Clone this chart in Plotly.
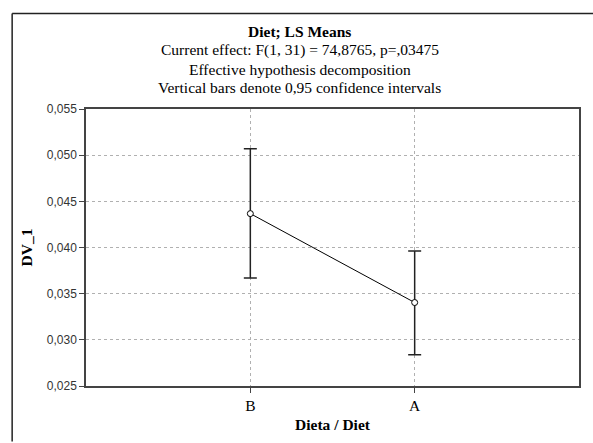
import plotly.graph_objects as go

categories = ["B", "A"]
means = [0.04367, 0.03404]
upper = [0.05069, 0.03961]
lower = [0.03669, 0.02839]
y_ticks = [0.025, 0.030, 0.035, 0.040, 0.045, 0.050, 0.055]
y_tick_labels = ["0,025", "0,030", "0,035", "0,040", "0,045", "0,050", "0,055"]

title_lines = [
    "<b>Diet; LS Means</b>",
    "Current effect: F(1, 31) = 74,8765, p=,03475",
    "Effective hypothesis decomposition",
    "Vertical bars denote 0,95 confidence intervals",
]

W, H = 593, 443
L, R, T, B = 86, 13, 109, 50
pw, ph = W - L - R, H - T - B

def px_x(x):
    return (x - L) / pw

def px_y(y):
    return (H - B - y) / ph

serif = "Liberation Serif, Times New Roman, serif"
sans = "Liberation Sans, Arial, sans-serif"

fig = go.Figure()
fig.add_trace(go.Scatter(
    x=[0, 1], y=means,
    mode="lines+markers",
    line=dict(color="black", width=1),
    marker=dict(symbol="circle", size=6, color="white", line=dict(color="black", width=1)),
    error_y=dict(
        type="data", symmetric=False,
        array=[u - m for u, m in zip(upper, means)],
        arrayminus=[m - l for m, l in zip(means, lower)],
        color="#222", thickness=1.5, width=6.5,
    ),
    showlegend=False,
))

fig.update_layout(
    width=W, height=H,
    margin=dict(l=L, r=R, t=T, b=B),
    paper_bgcolor="white", plot_bgcolor="white",
    font=dict(family=serif, color="black"),
    xaxis=dict(
        range=[-1, 2], tickmode="array", tickvals=[0, 1], ticktext=categories,
        tickfont=dict(family=serif, size=15.5),
        showgrid=True, gridcolor="#b0b0b0", griddash="dot", gridwidth=1,
        showline=True, linecolor="#444", linewidth=1.5, mirror=True,
        ticks="outside", ticklen=5, tickcolor="#444",
        zeroline=False,
        title=dict(text="<b>Dieta / Diet</b>", font=dict(family=serif, size=15.5), standoff=6),
    ),
    yaxis=dict(
        range=[0.025, 0.055], tickmode="array", tickvals=y_ticks, ticktext=y_tick_labels,
        tickfont=dict(family=sans, size=12, color="#333"),
        showgrid=True, gridcolor="#b0b0b0", griddash="dot", gridwidth=1,
        showline=True, linecolor="#444", linewidth=1.5, mirror=True,
        ticks="outside", ticklen=5, tickcolor="#444",
        zeroline=False,
        title=dict(text="<b>DV_1</b>", font=dict(family=serif, size=15.5), standoff=10),
    ),
)

ys = [30, 48, 68, 87]
for txt, y in zip(title_lines, ys):
    fig.add_annotation(
        text=txt, xref="paper", yref="paper", x=px_x(300), y=px_y(y),
        xanchor="center", yanchor="middle", showarrow=False,
        font=dict(family=serif, size=15.5, color="black"),
    )

# outer frame (top and left edges)
fig.add_shape(type="line", xref="paper", yref="paper",
              x0=px_x(12), y0=px_y(11), x1=px_x(600), y1=px_y(11),
              line=dict(color="#222", width=1.5))
fig.add_shape(type="line", xref="paper", yref="paper",
              x0=px_x(12), y0=px_y(11), x1=px_x(12), y1=px_y(450),
              line=dict(color="#222", width=1.5))

fig.write_html("out.html")
